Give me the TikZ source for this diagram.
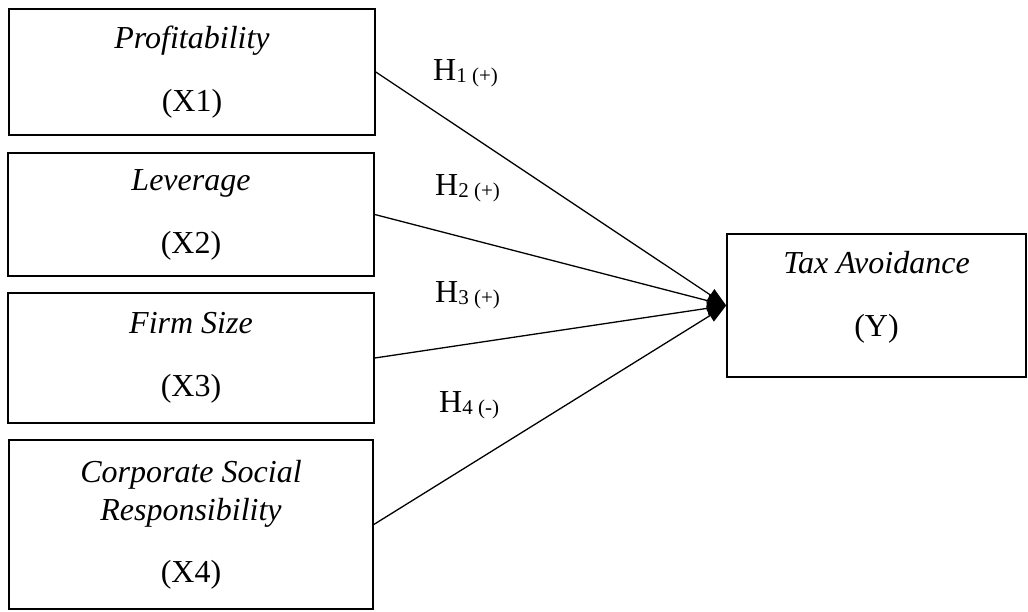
\documentclass[tikz,border=0pt]{standalone}
\usepackage{fontspec}
\setmainfont{Liberation Serif}
\usetikzlibrary{arrows.meta}

\newcommand{\hypsub}[1]{\raisebox{-2pt}{\fontsize{21}{21}\selectfont #1}}

\begin{document}
\begin{tikzpicture}[x = 1pt, y = -1pt,
    var/.style = {draw, line width = 1.6pt, align = center, inner sep = 0pt,
        font = \fontsize{32}{38}\selectfont},
    hyp/.style = {anchor = base west, inner sep = 0pt, font = \fontsize{32}{32}\selectfont},
    link/.style = {line width = 1.3pt, -{Triangle[length = 19pt, width = 14pt]}}]
        \useasboundingbox (0,0) rectangle (1028,611);
        % independent variables
        \node[var, minimum width = 366pt, minimum height = 126pt] (x1) at (192,72)
            {\textit{Profitability}\\[25pt](X1)};
        \node[var, minimum width = 366pt, minimum height = 123pt] (x2) at (191,214.5)
            {\textit{Leverage}\\[25pt](X2)};
        \node[var, minimum width = 366pt, minimum height = 130pt] (x3) at (191,358)
            {\textit{Firm Size}\\[25pt](X3)};
        \node[var, minimum width = 364pt, minimum height = 169pt] (x4) at (191,524.5)
            {\textit{Corporate Social}\\\textit{Responsibility}\\[24pt](X4)};
        % dependent variable
        \node[var, minimum width = 299pt, minimum height = 143pt] (y) at (876.5,305.5)
            {\textit{Tax Avoidance}\\[25pt](Y)\\[-14pt]};
        % hypotheses
        \node[hyp] (h1) at (433,80) {H\hypsub{1 (+)}};
        \node[hyp] (h2) at (435,195) {H\hypsub{2 (+)}};
        \node[hyp] (h3) at (435,302) {H\hypsub{3 (+)}};
        \node[hyp] (h4) at (439,412) {H\hypsub{4 (-)}};
        \foreach \v in {x1, x2, x3, x4}
            \draw[link] (\v.east) -- (y.west);
\end{tikzpicture}
\end{document}
